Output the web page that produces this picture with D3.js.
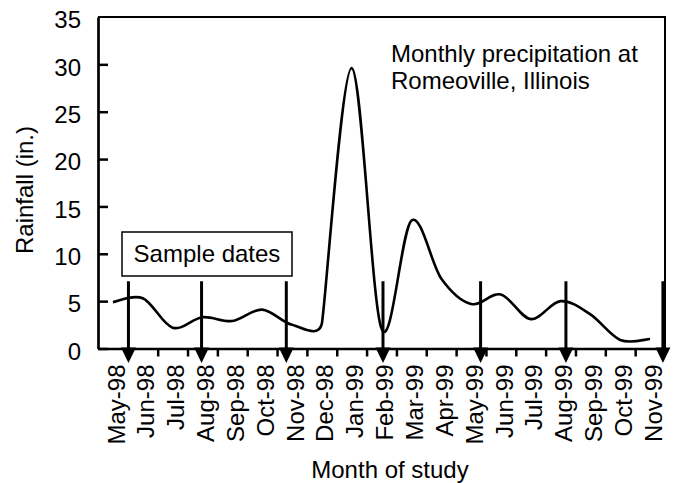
<!DOCTYPE html>
<html>
<head>
<meta charset="utf-8">
<script src="https://cdn.jsdelivr.net/npm/d3@7/dist/d3.min.js"></script>
<style>
  html, body { margin: 0; padding: 0; background: #fff; }
  svg { display: block; }
  text { font-family: "Liberation Sans", Arial, Helvetica, sans-serif; fill: #000; }
</style>
</head>
<body>
<svg id="chart" width="675" height="483"></svg>
<script>
// ---- data ----
const months = ["May-98","Jun-98","Jul-98","Aug-98","Sep-98","Oct-98","Nov-98","Dec-98",
                "Jan-99","Feb-99","Mar-99","Apr-99","May-99","Jun-99","Jul-99","Aug-99",
                "Sep-99","Oct-99","Nov-99"];
const rainfall = [4.9, 5.3, 2.2, 3.3, 2.9, 4.1, 2.5, 2.6,
                  29.6, 2.1, 13.5, 7.4, 4.7, 5.7, 3.1, 5.0,
                  3.6, 0.9, 1.0];
// sample dates, in months elapsed since start of May-98
const sampleDates = [1.02, 3.47, 6.31, 9.55, 12.82, 15.68, 18.93];
const yTicks = [0, 5, 10, 15, 20, 25, 30, 35];
const arrowTopValue = 7.1;

// ---- layout ----
const L = 98, R = 665, T = 17, B = 348.5;
const FS = 24;
const svg = d3.select("#chart");

const xBand = d3.scaleBand().domain(months).range([L, R]).padding(0);
const xLin = d3.scaleLinear().domain([0, months.length]).range([L, R]);
const y = d3.scaleLinear().domain([0, 35]).range([B, T]);

// frame (top & right)
svg.append("path")
  .attr("d", `M${L},${T}H${R}V${B}`)
  .attr("fill", "none").attr("stroke", "#000").attr("stroke-width", 2);

// y axis
const yAxis = svg.append("g").attr("transform", `translate(${L},0)`)
  .call(d3.axisLeft(y).tickValues(yTicks).tickSizeInner(-10).tickSizeOuter(0).tickPadding(17));
yAxis.select(".domain").attr("stroke-width", 2.7);
yAxis.selectAll(".tick line").attr("stroke-width", 2.5);
yAxis.selectAll(".tick").filter(d => d === 35).select("line").remove();
yAxis.selectAll("text").attr("font-size", FS).attr("font-family", null).attr("dy", "0.45em");

// x axis ticks at band boundaries
const xTicks = d3.range(1, months.length);
const xAxisTicks = svg.append("g").attr("transform", `translate(0,${B})`)
  .call(d3.axisBottom(xLin).tickValues(xTicks).tickSizeInner(8).tickSizeOuter(0).tickFormat(""));
xAxisTicks.select(".domain").attr("stroke-width", 2.7);
xAxisTicks.selectAll(".tick line").attr("stroke-width", 2.5);

// x axis labels (rotated)
const xAxisLabels = svg.append("g").attr("transform", `translate(3,${B})`)
  .call(d3.axisBottom(xBand).tickSize(0).tickPadding(0));
xAxisLabels.select(".domain").remove();
xAxisLabels.selectAll("text")
  .attr("font-size", FS).attr("font-family", null)
  .attr("transform", "rotate(-90)")
  .attr("x", -16).attr("y", 0).attr("dy", "0.36em")
  .style("text-anchor", "end");

// Excel-style smoothed line: Bezier segments, control arms = (P[i+1]-P[i-1])/6,
// limited to half the shorter adjacent segment.
function smoothPath(pts) {
  const p = d3.path();
  const n = pts.length;
  const dist = (a, b) => Math.hypot(b[0] - a[0], b[1] - a[1]);
  const arms = pts.map((pt, i) => {
    const prev = pts[Math.max(0, i - 1)], next = pts[Math.min(n - 1, i + 1)];
    let ax = (next[0] - prev[0]) / 6, ay = (next[1] - prev[1]) / 6;
    const len = Math.hypot(ax, ay);
    const dPrev = i > 0 ? dist(prev, pt) : Infinity;
    const dNext = i < n - 1 ? dist(pt, next) : Infinity;
    const lim = Math.min(dPrev, dNext) / 2;
    if (len > lim && len > 0) { ax *= lim / len; ay *= lim / len; }
    return [ax, ay];
  });
  p.moveTo(pts[0][0], pts[0][1]);
  for (let i = 0; i < n - 1; i++) {
    const a = pts[i], b = pts[i + 1];
    p.bezierCurveTo(a[0] + arms[i][0], a[1] + arms[i][1],
                    b[0] - arms[i + 1][0], b[1] - arms[i + 1][1],
                    b[0], b[1]);
  }
  return p.toString();
}
const linePts = rainfall.map((v, i) => [xBand(months[i]) + xBand.bandwidth() / 2, y(v)]);
svg.append("path")
  .attr("d", smoothPath(linePts))
  .attr("fill", "none").attr("stroke", "#000").attr("stroke-width", 2.6);

// sample date arrows
const arrows = svg.append("g");
sampleDates.forEach(m => {
  const ax = xLin(m);
  arrows.append("line")
    .attr("x1", ax).attr("x2", ax)
    .attr("y1", y(arrowTopValue)).attr("y2", B)
    .attr("stroke", "#000").attr("stroke-width", 3);
  arrows.append("path")
    .attr("d", `M${ax - 7.5},${B - 1}L${ax + 7.5},${B - 1}L${ax},${B + 14.5}Z`)
    .attr("fill", "#000");
});

// "Sample dates" box
svg.append("rect")
  .attr("x", 122).attr("y", 232).attr("width", 170).attr("height", 44)
  .attr("fill", "#fff").attr("stroke", "#000").attr("stroke-width", 1.5);
svg.append("text")
  .attr("x", 207).attr("y", 262).attr("text-anchor", "middle")
  .attr("font-size", FS).text("Sample dates");

// annotation
const ann = svg.append("text").attr("font-size", FS);
ann.append("tspan").attr("x", 391).attr("y", 62).text("Monthly precipitation at");
ann.append("tspan").attr("x", 391).attr("y", 88.5).text("Romeoville, Illinois");

// axis titles
svg.append("text")
  .attr("transform", "translate(33,190) rotate(-90)")
  .attr("text-anchor", "middle").attr("font-size", FS)
  .text("Rainfall (in.)");
svg.append("text")
  .attr("x", 390).attr("y", 478).attr("text-anchor", "middle")
  .attr("font-size", FS).text("Month of study");
</script>
</body>
</html>
